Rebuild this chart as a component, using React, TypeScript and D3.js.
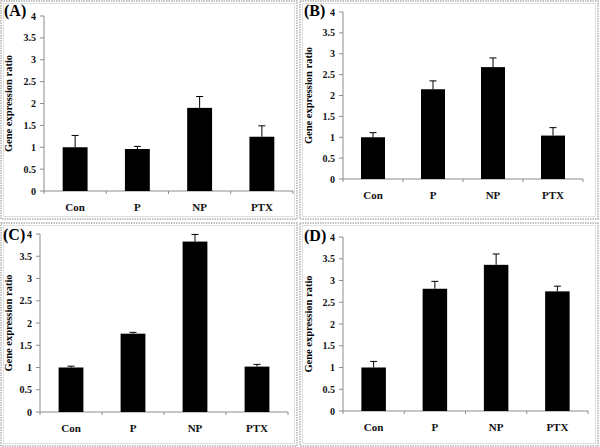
import * as d3 from 'd3'

const CATEGORIES = ['Con', 'P', 'NP', 'PTX']
const Y_TICKS = [0, 0.5, 1, 1.5, 2, 2.5, 3, 3.5, 4]

const VALUES_A = [1.0, 0.96, 1.9, 1.24]
const ERRORS_A = [0.27, 0.06, 0.26, 0.25]
const VALUES_B = [1.0, 2.15, 2.68, 1.04]
const ERRORS_B = [0.11, 0.2, 0.22, 0.19]
const VALUES_C = [1.0, 1.76, 3.83, 1.02]
const ERRORS_C = [0.03, 0.03, 0.16, 0.05]
const VALUES_D = [1.0, 2.81, 3.36, 2.75]
const ERRORS_D = [0.14, 0.17, 0.25, 0.12]

const FONT = '"Liberation Serif", "Times New Roman", serif'

type Panel = {
  label: string
  values: number[]
  errors: number[]
  box: [number, number, number, number]
  plot: { left: number; right: number; top: number; bottom: number }
  labelPos: [number, number]
  titleX: number
}

const PANELS: Panel[] = [
  {
    label: '(A)', values: VALUES_A, errors: ERRORS_A,
    box: [1, 1, 297, 219],
    plot: { left: 44, right: 293, top: 16, bottom: 191 },
    labelPos: [4, 16], titleX: 12,
  },
  {
    label: '(B)', values: VALUES_B, errors: ERRORS_B,
    box: [300, 1, 598, 219],
    plot: { left: 343, right: 583, top: 12, bottom: 179 },
    labelPos: [304, 16], titleX: 312,
  },
  {
    label: '(C)', values: VALUES_C, errors: ERRORS_C,
    box: [1, 223, 297, 446],
    plot: { left: 40, right: 288, top: 234, bottom: 412 },
    labelPos: [3, 240], titleX: 12,
  },
  {
    label: '(D)', values: VALUES_D, errors: ERRORS_D,
    box: [300, 223, 598, 446],
    plot: { left: 343, right: 588, top: 237, bottom: 411 },
    labelPos: [304, 241], titleX: 312,
  },
]

function BarPanel({ p }: { p: Panel }) {
  const { left, right, top, bottom } = p.plot
  const x = d3.scaleBand().domain(CATEGORIES).range([left, right]).paddingInner(0.6).paddingOuter(0.3)
  const y = d3.scaleLinear().domain([0, 4]).range([bottom, top])
  const step = x.step()
  const [bx0, by0, bx1, by1] = p.box
  const axisColor = '#8c8c8c'
  return (
    <g>
      <rect x={bx0} y={by0} width={bx1 - bx0} height={by1 - by0} fill="#fff" stroke="#b0b0b0" strokeWidth={1.5} strokeDasharray="1.5 1" />
      <rect x={bx0 + 2.5} y={by0 + 2.5} width={bx1 - bx0 - 5} height={by1 - by0 - 5} fill="none" stroke="#d8d8d8" strokeWidth={0.8} />
      <text x={p.labelPos[0]} y={p.labelPos[1]} fontFamily={FONT} fontWeight="bold" fontSize={16} fill="#000">{p.label}</text>
      <text
        transform={`translate(${p.titleX},${(top + bottom) / 2}) rotate(-90)`}
        textAnchor="middle" fontFamily={FONT} fontWeight="bold" fontSize={10.5} fill="#000"
      >Gene expression ratio</text>
      {/* y axis */}
      <line x1={left} x2={left} y1={top} y2={bottom} stroke={axisColor} strokeWidth={1} />
      {Y_TICKS.map((t) => (
        <g key={t}>
          <line x1={left - 4} x2={left} y1={y(t)} y2={y(t)} stroke={axisColor} strokeWidth={1} />
          <text x={left - 8} y={y(t) + 3.5} textAnchor="end" fontFamily={FONT} fontWeight="bold" fontSize={10} fill="#111">{t}</text>
        </g>
      ))}
      {/* x axis */}
      <line x1={left} x2={right} y1={bottom} y2={bottom} stroke={axisColor} strokeWidth={1} />
      {d3.range(CATEGORIES.length + 1).map((i) => (
        <line key={i} x1={left + i * step} x2={left + i * step} y1={bottom} y2={bottom + 3} stroke={axisColor} strokeWidth={1} />
      ))}
      {CATEGORIES.map((c, i) => {
        const bx = x(c) ?? 0
        const cx = bx + x.bandwidth() / 2
        const v = p.values[i]
        const e = p.errors[i]
        return (
          <g key={c}>
            <line x1={cx} x2={cx} y1={y(v)} y2={y(v + e)} stroke="#000" strokeWidth={1} />
            <line x1={cx - 3.5} x2={cx + 3.5} y1={y(v + e)} y2={y(v + e)} stroke="#000" strokeWidth={1} />
            <rect x={bx} y={y(v)} width={x.bandwidth()} height={bottom - y(v)} fill="#000" />
            <text x={cx} y={bottom + 20} textAnchor="middle" fontFamily={FONT} fontWeight="bold" fontSize={11} fill="#111">{c}</text>
          </g>
        )
      })}
    </g>
  )
}

export default function App() {
  return (
    <svg width={600} height={447} style={{ position: 'absolute', left: 0, top: 0, background: '#fff' }}>
      <rect x={0} y={0} width={600} height={447} fill="#fff" />
      {PANELS.map((p) => (
        <BarPanel key={p.label} p={p} />
      ))}
    </svg>
  )
}
